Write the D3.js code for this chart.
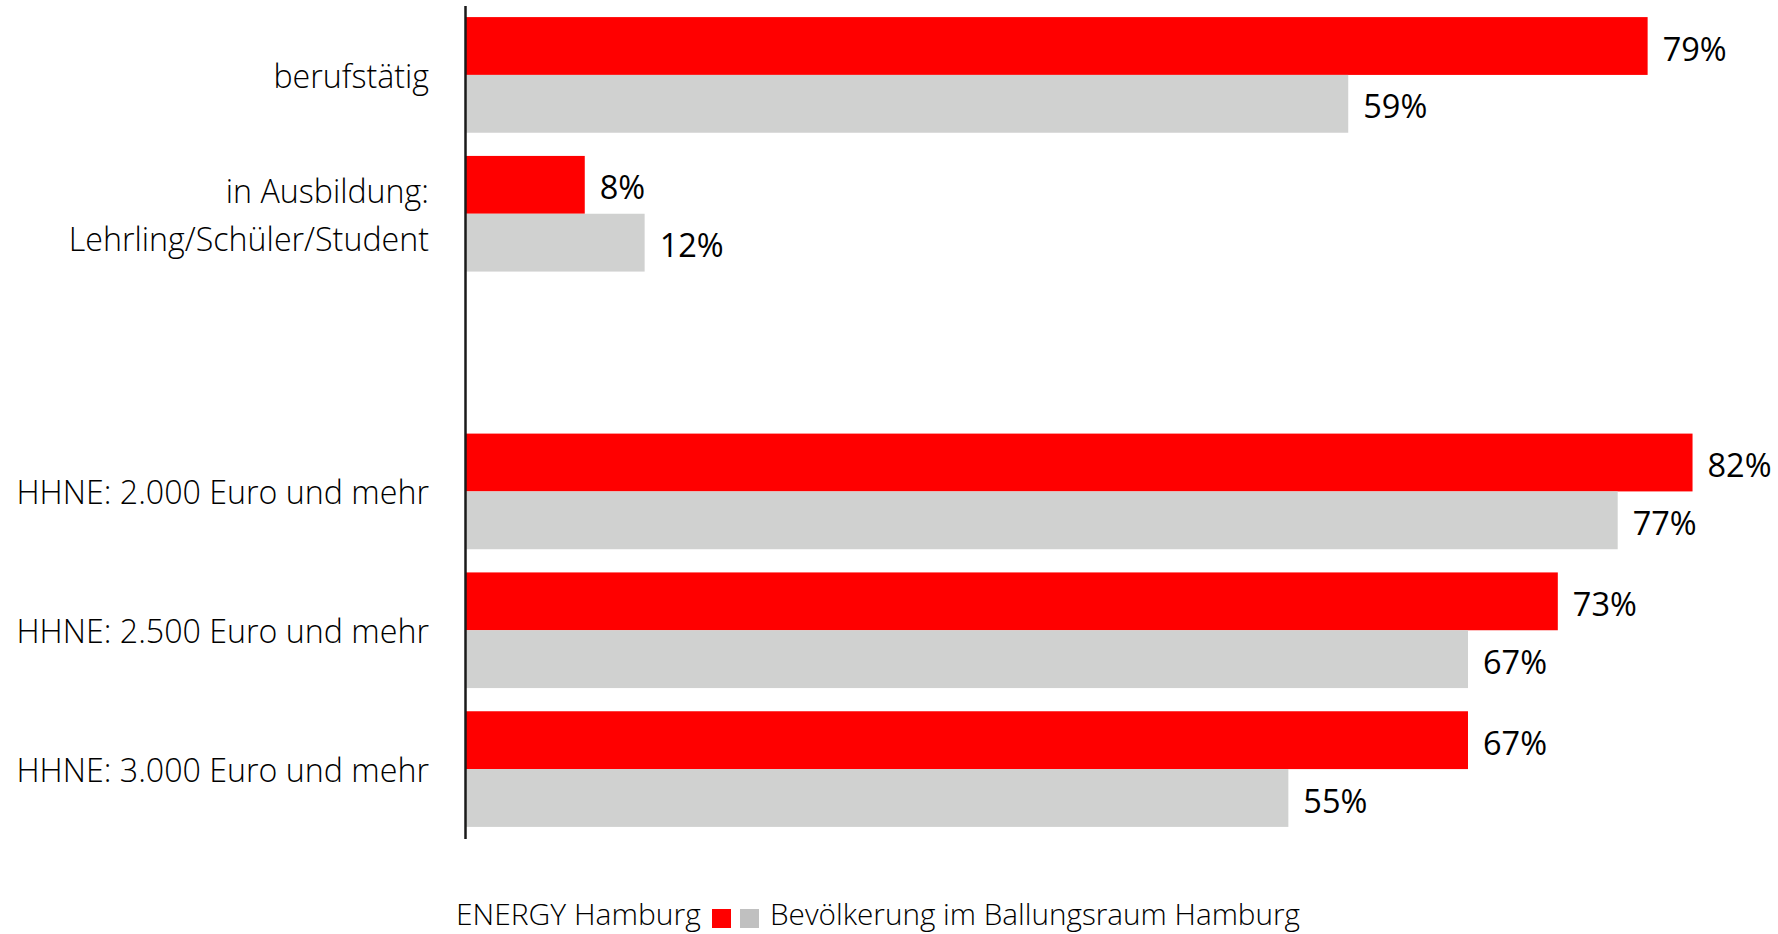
<!DOCTYPE html>
<html>
<head>
<meta charset="utf-8">
<script src="https://cdn.jsdelivr.net/npm/d3@7"></script>
<style>
  html, body { margin: 0; padding: 0; background: #ffffff; }
  svg { display: block; }
  text { font-family: "Segoe UI", "Open Sans", sans-serif; fill: #000000; }
</style>
</head>
<body>
<svg id="chart" width="1778" height="934"></svg>
<script>
// ---- data ----
const categories = [
  "berufstätig",
  "in Ausbildung:\nLehrling/Schüler/Student",
  "",
  "HHNE: 2.000 Euro und mehr",
  "HHNE: 2.500 Euro und mehr",
  "HHNE: 3.000 Euro und mehr"
];
const seriesNames = ["ENERGY Hamburg", "Bevölkerung im Ballungsraum Hamburg"];
const energyHamburg = [79, 8, null, 82, 73, 67];
const bevoelkerung = [59, 12, null, 77, 67, 55];
const seriesColors = ["#ff0000", "#d0d1d0"];
const legendColors = ["#ff0000", "#c0c0c0"];

// ---- layout ----
const svg = d3.select("#chart");
const x0 = 465;
const x = d3.scaleLinear().domain([0, 100]).range([x0, x0 + 1497]);
const y = d3.scaleBand()
  .domain(d3.range(categories.length))
  .range([5.5, 838.5])
  .paddingInner(0.167)
  .paddingOuter(0.0835);
const ySub = d3.scaleBand()
  .domain([0, 1])
  .range([0, y.bandwidth()])
  .padding(0);

const rows = categories.map((c, i) => ({
  cat: c, i,
  vals: [energyHamburg[i], bevoelkerung[i]]
}));

// bars
const g = svg.append("g");
rows.forEach(r => {
  r.vals.forEach((v, s) => {
    if (v == null) return;
    const yy = y(r.i) + ySub(s);
    g.append("rect")
      .attr("x", x(0))
      .attr("y", yy)
      .attr("width", x(v) - x(0))
      .attr("height", ySub.bandwidth())
      .attr("fill", seriesColors[s]);
    g.append("text")
      .attr("x", x(v) + 15)
      .attr("y", yy + ySub.bandwidth() / 2)
      .attr("dy", "0.45em")
      .attr("font-size", 32.5)
      .attr("font-weight", 400)
      .text(v + "%");
  });
});

// y axis (domain line only)
const yAxis = d3.axisLeft(y).tickSize(0).tickFormat(() => "");
const axG = svg.append("g")
  .attr("transform", `translate(${x0},0)`)
  .call(yAxis);
axG.select(".domain").attr("stroke", "#1a1a1a").attr("stroke-width", 2.5);

// category labels
const lineH = 48;
rows.forEach(r => {
  if (!r.cat) return;
  const lines = r.cat.split("\n");
  const cy = y(r.i) + y.bandwidth() / 2;
  const t = svg.append("text")
    .attr("x", 429)
    .attr("text-anchor", "end")
    .attr("font-size", 32.2)
    .attr("font-weight", 300);
  lines.forEach((ln, k) => {
    t.append("tspan")
      .attr("x", 429)
      .attr("y", cy + (k - (lines.length - 1) / 2) * lineH)
      .attr("dy", "0.4em")
      .text(ln);
  });
});

// legend
const leg = svg.append("g");
const legY = 925;
leg.append("text")
  .attr("x", 456).attr("y", legY)
  .attr("font-size", 30).attr("font-weight", 300)
  .text(seriesNames[0]);
leg.append("rect").attr("x", 712).attr("y", 909).attr("width", 19).attr("height", 19).attr("fill", legendColors[0]);
leg.append("rect").attr("x", 740).attr("y", 909).attr("width", 19).attr("height", 19).attr("fill", legendColors[1]);
leg.append("text")
  .attr("x", 770).attr("y", legY)
  .attr("font-size", 29.7).attr("font-weight", 300)
  .text(seriesNames[1]);
</script>
</body>
</html>
